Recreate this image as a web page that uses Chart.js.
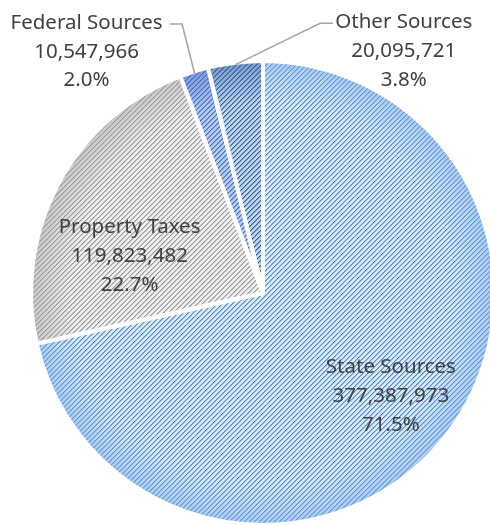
<!DOCTYPE html>
<html>
<head>
<meta charset="utf-8">
<script src="https://cdn.jsdelivr.net/npm/chart.js@4"></script>
<style>
  html, body { margin: 0; padding: 0; background: #fff; overflow: hidden; }
  #wrap { width: 490px; height: 525px; overflow: hidden; position: relative; }
  #chartRevenue { position: absolute; left: 0; top: 0; }
</style>
</head>
<body>
<div id="wrap"><canvas id="chartRevenue" width="505" height="530"></canvas></div>
<script>
// revenue by source
const categories = ["State Sources", "Property Taxes", "Federal Sources", "Other Sources"];
const amounts = [377387973, 119823482, 10547966, 20095721];

// slice styling: base fill, stripe colour, rim shade
const baseColors = ["#dde9f8", "#efefef", "#b8caee", "#c0d5ec"];
const stripeColors = ["#4a8bd2", "#999999", "#3d6ec8", "#2b5d9d"];
const rimShades = ["120,172,230", "160,160,160", "70,105,200", "50,95,165"];

// label anchors in units of pie radius from the centre (first baseline)
const labelSpots = [
  { x: 0.556, y: 0.349 },
  { x: -0.580, y: -0.260 },
  { x: -0.767, y: -1.148, elbow: { x: -0.352, y: -1.148 }, end: -0.404 },
  { x: 0.612, y: -1.151, elbow: { x: 0.248, y: -1.151 }, end: 0.304 }
];

// diagonal "/" stripe pattern, one solid pixel plus a soft edge
function stripes(bg, fg) {
  const size = 5;
  const c = document.createElement("canvas");
  c.width = size; c.height = size;
  const g = c.getContext("2d");
  g.fillStyle = bg;
  g.fillRect(0, 0, size, size);
  g.fillStyle = fg;
  for (let x = 0; x < size; x++) {
    for (let y = 0; y < size; y++) {
      const k = (x + y) % size;
      if (k === 0) { g.globalAlpha = 1; g.fillRect(x, y, 1, 1); }
      if (k === 1) { g.globalAlpha = 0.45; g.fillRect(x, y, 1, 1); }
    }
  }
  return g.createPattern(c, "repeat");
}

const total = amounts.reduce((a, b) => a + b, 0);

const pieExtras = {
  id: "pieExtras",
  afterDatasetsDraw(chart) {
    const ctx = chart.ctx;
    const arcs = chart.getDatasetMeta(0).data;
    // rim shading
    arcs.forEach((arc, i) => {
      const r = arc.outerRadius;
      const grad = ctx.createRadialGradient(arc.x, arc.y, 0, arc.x, arc.y, r);
      grad.addColorStop(0, "rgba(" + rimShades[i] + ",0)");
      grad.addColorStop(0.82, "rgba(" + rimShades[i] + ",0)");
      grad.addColorStop(0.985, "rgba(" + rimShades[i] + ",0.45)");
      grad.addColorStop(1, "rgba(" + rimShades[i] + ",0.45)");
      ctx.save();
      ctx.beginPath();
      ctx.moveTo(arc.x, arc.y);
      ctx.arc(arc.x, arc.y, r, arc.startAngle, arc.endAngle);
      ctx.closePath();
      ctx.fillStyle = grad;
      ctx.fill();
      ctx.restore();
    });
    // white separators again on top of the shading
    ctx.save();
    ctx.strokeStyle = "#ffffff";
    ctx.lineWidth = 4;
    arcs.forEach(arc => {
      const r = arc.outerRadius;
      ctx.beginPath();
      ctx.moveTo(arc.x, arc.y);
      ctx.lineTo(arc.x + r * Math.cos(arc.startAngle), arc.y + r * Math.sin(arc.startAngle));
      ctx.stroke();
      ctx.beginPath();
      ctx.arc(arc.x, arc.y, r, arc.startAngle, arc.endAngle);
      ctx.stroke();
    });
    ctx.restore();
  },
  afterDraw(chart) {
    const ctx = chart.ctx;
    const arcs = chart.getDatasetMeta(0).data;
    ctx.save();
    ctx.font = '20.5px "Noto Sans"';
    ctx.fillStyle = "#404040";
    ctx.textAlign = "center";
    ctx.textBaseline = "alphabetic";
    arcs.forEach((arc, i) => {
      const r = arc.outerRadius - 2;
      const spot = labelSpots[i];
      const v = amounts[i];
      const lines = [
        categories[i],
        v.toLocaleString("en-US"),
        (v / total * 100).toFixed(1) + "%"
      ];
      const cx = arc.x + spot.x * r;
      const cy = arc.y + spot.y * r;
      lines.forEach((t, j) => ctx.fillText(t, cx, cy + j * 28.7));
      if (spot.elbow) {
        const mid = (arc.startAngle + arc.endAngle) / 2;
        ctx.beginPath();
        ctx.moveTo(arc.x + r * Math.cos(mid), arc.y + r * Math.sin(mid));
        ctx.lineTo(arc.x + spot.elbow.x * r, arc.y + spot.elbow.y * r - 5);
        ctx.lineTo(arc.x + spot.end * r, arc.y + spot.elbow.y * r - 5);
        ctx.strokeStyle = "#a6a6a6";
        ctx.lineWidth = 1.6;
        ctx.stroke();
      }
    });
    ctx.restore();
  }
};

const cv = document.getElementById("chartRevenue");
new Chart(cv, {
  type: "pie",
  data: {
    labels: categories,
    datasets: [{
      data: amounts,
      backgroundColor: baseColors.map((b, i) => stripes(b, stripeColors[i])),
      borderColor: "#ffffff",
      borderWidth: 4
    }]
  },
  options: {
    responsive: false,
    animation: false,
    layout: { padding: { left: 29, right: 8, top: 59, bottom: 3 } },
    plugins: {
      legend: { display: false },
      tooltip: { enabled: false }
    }
  },
  plugins: [pieExtras]
});
</script>
</body>
</html>
